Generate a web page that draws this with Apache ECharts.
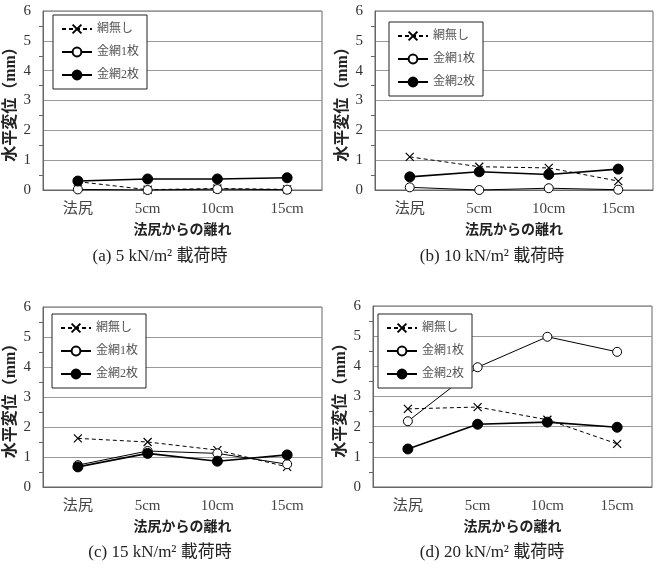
<!DOCTYPE html>
<html>
<head>
<meta charset="utf-8">
<script src="https://cdn.jsdelivr.net/npm/echarts@6/dist/echarts.min.js"></script>
<style>
  html, body { margin: 0; padding: 0; background: #fff; }
  #chart { width: 660px; height: 568px; }
</style>
</head>
<body>
<div id="chart"></div>
<script>
// data
const categories = ['法尻', '5cm', '10cm', '15cm'];
const seriesNames = ['網無し', '金網1枚', '金網2枚'];
const yTicks = [0, 1, 2, 3, 4, 5, 6];
const captions = ['(a) 5 kN/m\u00B2 載荷時', '(b) 10 kN/m\u00B2 載荷時', '(c) 15 kN/m\u00B2 載荷時', '(d) 20 kN/m\u00B2 載荷時'];

const noNet5 = [0.28, 0.01, 0.05, 0.02];
const net1_5 = [0.02, 0.0, 0.03, 0.01];
const net2_5 = [0.3, 0.37, 0.37, 0.41];

const noNet10 = [1.11, 0.78, 0.74, 0.3];
const net1_10 = [0.09, 0.0, 0.06, 0.01];
const net2_10 = [0.44, 0.61, 0.52, 0.7];

const noNet15 = [1.62, 1.5, 1.23, 0.67];
const net1_15 = [0.73, 1.2, 1.12, 0.76];
const net2_15 = [0.67, 1.12, 0.86, 1.07];

const noNet20 = [2.59, 2.65, 2.23, 1.43];
const net1_20 = [2.18, 3.97, 4.98, 4.48];
const net2_20 = [1.26, 2.08, 2.15, 1.98];

const panels = [
  [noNet5, net1_5, net2_5],
  [noNet10, net1_10, net2_10],
  [noNet15, net1_15, net2_15],
  [noNet20, net1_20, net2_20]
];

const grids = [
  { left: 43, top: 11, width: 279, height: 179 },
  { left: 375, top: 11, width: 278, height: 179 },
  { left: 43, top: 307, width: 279, height: 180 },
  { left: 373, top: 306, width: 279, height: 181 }
];
const legendPos = [
  { left: 53, top: 15 },
  { left: 389, top: 22 },
  { left: 52, top: 314 },
  { left: 378, top: 314 }
];
const captionPos = [
  { x: 160, y: 257 },
  { x: 492, y: 257 },
  { x: 160, y: 553 },
  { x: 492, y: 553 }
];

const serif = '"Liberation Serif", "DejaVu Serif", "Noto Sans CJK JP", serif';
const crossPath = 'path://M0,0L10,10M10,0L0,10';

const chart = echarts.init(document.getElementById('chart'));

const option = {
  backgroundColor: '#fff',
  animation: false,
  grid: grids.map(g => Object.assign({ show: true, borderColor: '#666', borderWidth: 1, backgroundColor: '#fff' }, g)),
  xAxis: grids.map((g, i) => ({
    type: 'category',
    gridIndex: i,
    data: categories,
    boundaryGap: true,
    axisLine: { lineStyle: { color: '#666' } },
    axisTick: { show: false },
    axisLabel: { color: '#444', fontFamily: serif, fontSize: 15, margin: 12 },
    name: '法尻からの離れ',
    nameLocation: 'middle',
    nameGap: 33,
    nameTextStyle: { color: '#222', fontFamily: serif, fontSize: 14, fontWeight: 'bold' }
  })),
  yAxis: grids.map((g, i) => ({
    type: 'value',
    gridIndex: i,
    min: yTicks[0],
    max: yTicks[yTicks.length - 1],
    interval: 1,
    axisLine: { show: true, lineStyle: { color: '#666' } },
    axisTick: { show: false },
    minorTick: { show: true, splitNumber: 2, length: 4, lineStyle: { color: '#666' } },
    splitLine: { lineStyle: { color: '#999', width: 1 } },
    axisLabel: { color: '#333', fontFamily: serif, fontSize: 15, margin: 12 },
    name: '水平変位（mm）',
    nameLocation: 'middle',
    nameGap: 24,
    nameTextStyle: { color: '#222', fontFamily: serif, fontSize: 16, fontWeight: 'bold' }
  })),
  legend: legendPos.map(p => ({
    orient: 'vertical',
    left: p.left,
    top: p.top,
    data: seriesNames,
    backgroundColor: '#fff',
    borderColor: '#222',
    borderWidth: 1,
    borderRadius: 0,
    padding: [8, 8, 8, 8],
    itemGap: 11,
    itemWidth: 30,
    itemHeight: 11,
    textStyle: { color: '#555', fontSize: 12, fontFamily: serif },
    selectedMode: false
  })),
  series: [],
  graphic: captionPos.map((p, i) => ({
    type: 'text',
    x: p.x,
    y: p.y,
    style: {
      text: captions[i],
      fill: '#222',
      font: '17px ' + serif,
      align: 'center',
      verticalAlign: 'middle'
    }
  }))
};

panels.forEach((vals, i) => {
  option.series.push({
    name: seriesNames[0],
    type: 'line',
    xAxisIndex: i,
    yAxisIndex: i,
    data: vals[0],
    symbol: crossPath,
    symbolSize: 8,
    lineStyle: { color: '#000', width: 1, type: [4, 3] },
    itemStyle: { color: 'rgba(0,0,0,0)', borderColor: '#000', borderWidth: 1.2 },
    z: 3
  });
  option.series.push({
    name: seriesNames[1],
    type: 'line',
    xAxisIndex: i,
    yAxisIndex: i,
    data: vals[1],
    symbol: 'circle',
    symbolSize: 9,
    lineStyle: { color: '#000', width: 1 },
    itemStyle: { color: '#fff', borderColor: '#000', borderWidth: 1 },
    z: 3
  });
  option.series.push({
    name: seriesNames[2],
    type: 'line',
    xAxisIndex: i,
    yAxisIndex: i,
    data: vals[2],
    symbol: 'circle',
    symbolSize: 10,
    lineStyle: { color: '#000', width: 1.6 },
    itemStyle: { color: '#000', borderColor: '#000', borderWidth: 1 },
    z: 4
  });
});

chart.setOption(option);
</script>
</body>
</html>
